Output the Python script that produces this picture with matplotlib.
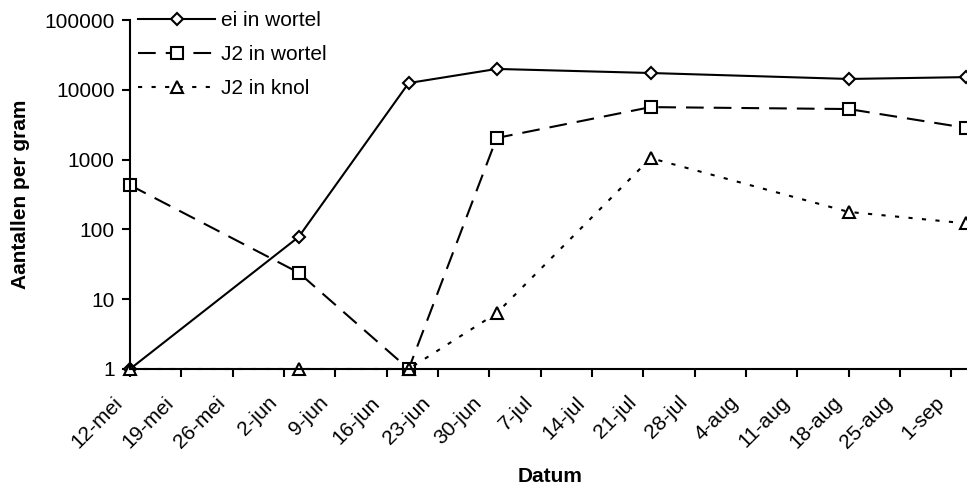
import matplotlib
matplotlib.use("Agg")
import matplotlib.pyplot as plt
import matplotlib.transforms as mtransforms
import pandas as pd

plt.rcParams['font.family'] = ['Liberation Sans', 'DejaVu Sans']

datums = pd.to_datetime(['2005-05-12', '2005-06-04', '2005-06-19', '2005-07-01',
                         '2005-07-22', '2005-08-18', '2005-09-03'])
ei_wortel = [1, 78, 12500, 19900, 17400, 14300, 15200]
j2_wortel = [430, 24, 1, 2040, 5650, 5300, 2850]
j2_knol = [1, 1, 1, 6.3, 1050, 178, 122]

tick_datums = pd.date_range('2005-05-12', '2005-09-01', freq='7D')
tick_labels = ['12-mei', '19-mei', '26-mei', '2-jun', '9-jun', '16-jun', '23-jun',
               '30-jun', '7-jul', '14-jul', '21-jul', '28-jul', '4-aug', '11-aug',
               '18-aug', '25-aug', '1-sep']

fs = 15

fig = plt.figure(figsize=(9.67, 4.88), dpi=100)
ax = fig.add_axes([130/967, 1-369/488, 836/967, 349/488])

ax.plot(datums, ei_wortel, color='black', lw=1.5, marker='D', ms=6.5,
        mfc='white', mec='black', mew=1.5, label='ei in wortel', clip_on=False)
ax.plot(datums, j2_wortel, color='black', lw=1.5, marker='s', ms=8,
        mfc='white', mec='black', mew=1.5, dashes=(8.5, 4.8), label='J2 in wortel', clip_on=False)
ax.plot(datums, j2_knol, color='black', lw=1.5, marker='^', ms=8,
        mfc='white', mec='black', mew=1.5, dashes=(2, 4.5), label='J2 in knol', clip_on=False)

ax.set_yscale('log')
ax.set_ylim(1, 100000)
ax.set_yticks([1, 10, 100, 1000, 10000, 100000])
ax.set_yticklabels(['1', '10', '100', '1000', '10000', '100000'])
ax.minorticks_off()
ax.set_xlim(datums[0], datums[-1])
ax.set_xticks(tick_datums)
ax.set_xticklabels([])

ax.tick_params(axis='both', labelsize=fs, width=1.5, length=6, direction='out', color='black')
ax.tick_params(axis='y', pad=5)

# datum labels, schuin, eindigend net links van de tick
offset = mtransforms.ScaledTranslation(-0.17, -0.24, fig.dpi_scale_trans)
for d, lab in zip(tick_datums, tick_labels):
    ax.text(d, 0, lab, transform=ax.get_xaxis_transform() + offset, fontsize=fs,
            rotation=45, ha='right', va='top', rotation_mode='anchor', clip_on=False)

for s in ['top', 'right']:
    ax.spines[s].set_visible(False)
for s in ['left', 'bottom']:
    ax.spines[s].set_linewidth(1.5)

ax.set_ylabel('Aantallen per gram', fontsize=fs, fontweight='bold', labelpad=10)
fig.text(550/967, 1-477/488, 'Datum', fontsize=fs, fontweight='bold', ha='center', va='center')

leg = ax.legend(loc='upper left', bbox_to_anchor=(0.0, 1.05), frameon=False,
                fontsize=fs, handlelength=3.7, handletextpad=0.25, labelspacing=0.72,
                borderaxespad=0)

fig.savefig('out.png', dpi=100)
